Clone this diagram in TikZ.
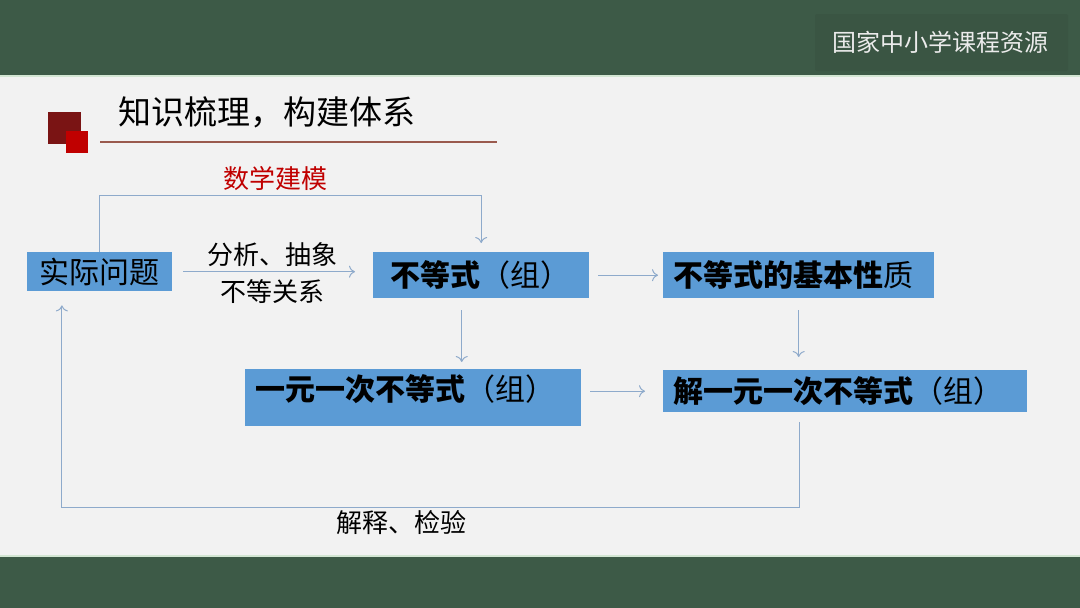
\documentclass[tikz,border=0pt]{standalone}
\usepackage{fontspec}
\setmainfont{Noto Sans CJK SC}
\usetikzlibrary{arrows.meta, positioning, calc}

\definecolor{bandgreen}{HTML}{3D5A47}
\definecolor{badgegreen}{HTML}{3A5543}
\definecolor{bandedge}{HTML}{D3E6D3}
\definecolor{paper}{HTML}{F2F2F2}
\definecolor{boxblue}{HTML}{5B9BD5}
\definecolor{linkblue}{HTML}{8EAACB}
\definecolor{modelred}{HTML}{C00000}
\definecolor{darkred}{HTML}{7A1414}
\definecolor{rulebrown}{HTML}{9A5A4E}

\begin{document}
\begin{tikzpicture}[
    x=1pt, y=-1pt,
    box/.style={fill=boxblue, anchor=north west, inner ysep=0pt, align=left, font=\fontsize{30}{36}\selectfont},
    link/.style={draw=linkblue, line width=1pt, -{To[length=6pt, width=12pt]}},
    label/.style={font=\fontsize{26}{30}\selectfont, inner sep=1pt},
    title/.style={font=\fontsize{33}{40}\selectfont, inner sep=0pt}
]

% ============ PAGE ============
\useasboundingbox (0,0) rectangle (1080,608);
\fill[paper] (0,0) rectangle (1080,608);

% Top and bottom bands
\fill[bandgreen] (0,0) rectangle (1080,75);
\fill[bandedge] (0,75) rectangle (1080,77);
\fill[bandedge] (0,555) rectangle (1080,557);
\fill[bandgreen] (0,557) rectangle (1080,608);

% Badge
\fill[badgegreen, rounded corners=2pt] (815,14) rectangle (1068,71);
\node[text=white!92!black, font=\fontsize{24}{28}\selectfont] (badge) at (940,42) {国家中小学课程资源};

% ============ HEADING ============
\fill[darkred] (48,112) rectangle (81,144);
\fill[modelred] (66,131) rectangle (88,153);
\node[title, anchor=west] (head) at (118,112) {知识梳理，构建体系};
\draw[rulebrown, line width=1.5pt] (100,142) -- (497,142);

% ============ BOXES ============
\node[box, text width=125pt, inner xsep=10pt, minimum height=39pt, align=center] (real) at (27,252) {实际问题};
\node[box, text width=182pt, inner xsep=17pt, minimum height=46pt] (ineq) at (373,252) {{\bfseries 不等式}（组）};
\node[box, text width=251pt, inner xsep=10pt, minimum height=46pt] (prop) at (663,252) {{\bfseries 不等式的基本性}质};
\node[box, text width=316pt, inner xsep=10pt, inner ysep=5pt, text height=26pt, text depth=21pt] (linear) at (245,369) {{\bfseries 一元一次不等式}（组）};
\node[box, text width=344pt, inner xsep=10pt, minimum height=42pt] (solve) at (663,370) {{\bfseries 解一元一次不等式}（组）};

% ============ CONNECTORS ============
% Modelling loop over the top
\draw[link, shorten >=9pt] (real.north) -- ++(0,-57) -| (ineq.north)
    node[label, pos=0.23, above=3pt, text=modelred] (model) {数学建模};

% Abstraction arrow
\draw[link, shorten <=11pt, shorten >=18pt] (real.east) -- (ineq.west |- real.east)
    node[label, midway, above=4pt] (abstr) {分析、抽象}
    node[label, midway, below=6pt] (rel) {不等关系};

\draw[link, shorten <=9pt, shorten >=5pt] (ineq.east) -- (prop.west);

\coordinate (d1) at ($(ineq.south west)!0.41!(ineq.south east)$);
\draw[link, shorten <=12pt, shorten >=7pt] (d1) -- (d1 |- linear.north);
\draw[link, shorten <=12pt, shorten >=13pt] (prop.south) -- (prop.south |- solve.north);
\draw[link, shorten <=9pt, shorten >=18pt] (linear.east |- solve.west) -- (solve.west);

% Feedback loop underneath
\coordinate (f1) at ($(solve.south west)!0.375!(solve.south east)$);
\coordinate (f2) at ($(real.south west)!0.24!(real.south east)$);
\draw[link, shorten <=10pt, shorten >=14pt] (f1) -- ++(0,95) -| (f2)
    node[label, pos=0.27, below=2pt] (check) {解释、检验};

\end{tikzpicture}
\end{document}
